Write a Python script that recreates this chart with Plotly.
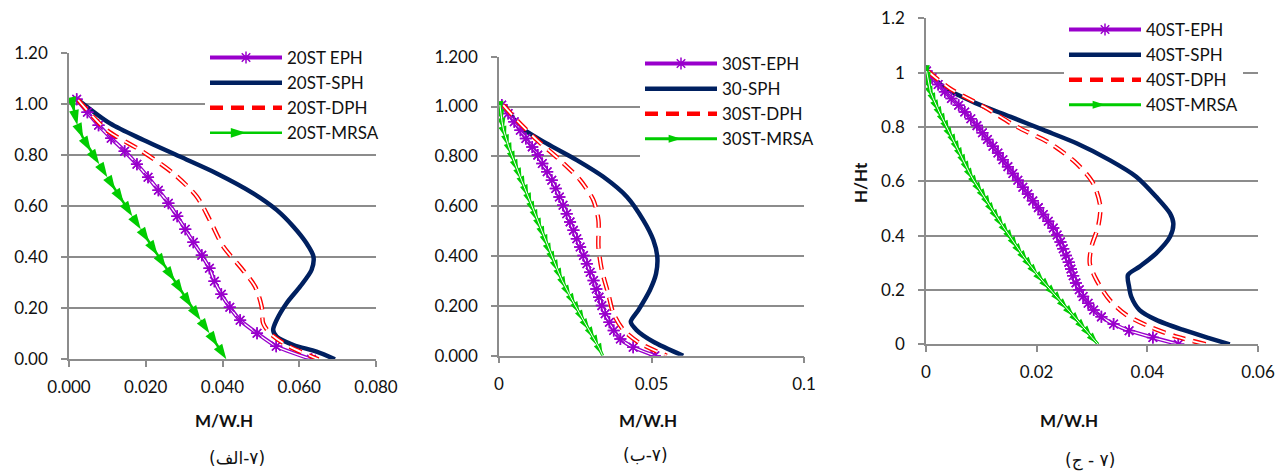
import plotly.graph_objects as go

# ---------------- data ----------------
# Panel (الف) : 20 storeys
h20 = [1.02, 0.969, 0.918, 0.867, 0.816, 0.765, 0.714, 0.663, 0.612, 0.561, 0.51,
       0.459, 0.408, 0.357, 0.306, 0.255, 0.204, 0.153, 0.102, 0.051, 0.0]
eph20 = [0.002, 0.0048, 0.0077, 0.011, 0.0145, 0.0177, 0.0206, 0.0233, 0.0259, 0.0282, 0.0303,
         0.0324, 0.0346, 0.0366, 0.0379, 0.0397, 0.0419, 0.0446, 0.049, 0.054, 0.0632]
mrsa20 = [0.0007, 0.0014, 0.0022, 0.0037, 0.0057, 0.0079, 0.0100, 0.0121, 0.0143, 0.0165, 0.0187,
          0.0209, 0.0231, 0.0253, 0.0276, 0.0298, 0.0320, 0.0343, 0.0366, 0.0388, 0.041]
sph20_x = [0.0024, 0.0107, 0.0194, 0.0289, 0.0385, 0.048, 0.0541, 0.0585, 0.0619, 0.0637,
           0.0632, 0.0602, 0.0567, 0.0541, 0.0532, 0.0541, 0.0585, 0.0645, 0.0693]
sph20_y = [1.017, 0.925, 0.860, 0.795, 0.729, 0.651, 0.586, 0.520, 0.455, 0.403,
           0.350, 0.285, 0.220, 0.154, 0.115, 0.089, 0.056, 0.030, 0.0]
dph20_x = [0.0024, 0.0098, 0.0185, 0.0272, 0.0333, 0.0367, 0.0402, 0.0446, 0.0485, 0.0502,
           0.0506, 0.0524, 0.0567, 0.065]
dph20_y = [1.017, 0.899, 0.821, 0.729, 0.638, 0.546, 0.442, 0.363, 0.285, 0.207,
           0.141, 0.102, 0.056, 0.0]

# Panel (ب) : 30 storeys
h30 = [1.006, 0.972, 0.939, 0.905, 0.872, 0.838, 0.805, 0.771, 0.738, 0.704, 0.671,
       0.637, 0.604, 0.570, 0.537, 0.503, 0.469, 0.436, 0.402, 0.369, 0.335,
       0.302, 0.268, 0.235, 0.201, 0.168, 0.134, 0.101, 0.067, 0.034, 0.0]
eph30 = [0.0009, 0.003, 0.005, 0.007, 0.0088, 0.0109, 0.0127, 0.0142, 0.0158, 0.0173, 0.0186,
         0.0198, 0.021, 0.0222, 0.0233, 0.0244, 0.0255, 0.0266, 0.0277, 0.0288, 0.0299,
         0.0310, 0.0319, 0.0328, 0.0337, 0.0348, 0.0362, 0.0376, 0.0398, 0.0440, 0.0511]
mrsa30 = [0.0003, 0.0006, 0.001, 0.0015, 0.0023, 0.0032, 0.0042, 0.0052, 0.0063, 0.0074, 0.0085,
          0.0096, 0.0106, 0.0117, 0.0128, 0.0139, 0.0150, 0.0160, 0.0172, 0.0183, 0.0195,
          0.0207, 0.022, 0.0235, 0.0250, 0.0265, 0.0280, 0.0297, 0.0313, 0.0327, 0.034]
sph30_x = [0.0017, 0.0069, 0.0156, 0.0255, 0.0342, 0.0419, 0.0473, 0.0506, 0.0519, 0.0515,
           0.0495, 0.0457, 0.0432, 0.0451, 0.0506, 0.0604]
sph30_y = [1.006, 0.919, 0.852, 0.785, 0.718, 0.638, 0.544, 0.464, 0.397, 0.330,
           0.264, 0.183, 0.136, 0.103, 0.056, 0.0]
dph30_x = [0.0014, 0.0058, 0.0124, 0.02, 0.0266, 0.0309, 0.0326, 0.0326, 0.0337, 0.0358,
           0.0375, 0.0408, 0.0462, 0.055]
dph30_y = [1.006, 0.946, 0.866, 0.785, 0.705, 0.625, 0.544, 0.437, 0.344, 0.250,
           0.170, 0.103, 0.050, 0.0]

# Panel (ج) : 40 storeys
h40 = [1.006, 0.981, 0.956, 0.930, 0.905, 0.880, 0.855, 0.830, 0.805, 0.779, 0.754,
       0.729, 0.704, 0.679, 0.654, 0.629, 0.604, 0.578, 0.553, 0.528, 0.503,
       0.478, 0.453, 0.428, 0.402, 0.377, 0.352, 0.327, 0.302, 0.277, 0.252,
       0.226, 0.201, 0.176, 0.151, 0.126, 0.101, 0.075, 0.050, 0.025, 0.0]
eph40 = [0.0001, 0.0011, 0.0022, 0.0034, 0.0046, 0.0059, 0.007, 0.0081, 0.0092, 0.0102, 0.0111,
         0.0121, 0.0130, 0.0139, 0.0148, 0.0157, 0.0166, 0.0175, 0.0184, 0.0193, 0.0203,
         0.0212, 0.0221, 0.0230, 0.0237, 0.0243, 0.0248, 0.0253, 0.0258, 0.0262, 0.0266,
         0.0271, 0.0277, 0.0284, 0.0293, 0.0303, 0.0317, 0.0339, 0.0367, 0.0410, 0.0456]
mrsa40 = [0.0001, 0.0003, 0.0005, 0.0008, 0.0013, 0.0018, 0.0024, 0.003, 0.0036, 0.0042, 0.0049,
          0.0055, 0.0061, 0.0067, 0.0073, 0.0079, 0.0086, 0.0094, 0.0102, 0.0110, 0.0117,
          0.0125, 0.0133, 0.0141, 0.0150, 0.0158, 0.0166, 0.0175, 0.0184, 0.0193, 0.0203,
          0.0214, 0.0225, 0.0236, 0.0246, 0.0257, 0.0268, 0.0279, 0.0290, 0.0300, 0.0311]
sph40_x = [0.0004, 0.0031, 0.0091, 0.0152, 0.0212, 0.0272, 0.0332, 0.038, 0.0416, 0.0441, 0.0447,
           0.0441, 0.0416, 0.0386, 0.0365, 0.0367, 0.0371, 0.0386, 0.0416, 0.0465, 0.0513, 0.0549]
sph40_y = [1.004, 0.948, 0.887, 0.838, 0.789, 0.740, 0.678, 0.617, 0.543, 0.482, 0.445,
           0.396, 0.335, 0.286, 0.255, 0.212, 0.175, 0.126, 0.090, 0.053, 0.022, 0.0]
dph40_x = [0.0004, 0.0043, 0.0104, 0.0164, 0.0224, 0.0272, 0.0302, 0.0315, 0.0311, 0.0299,
           0.0296, 0.0308, 0.0332, 0.0362, 0.0404, 0.0453, 0.0507]
dph40_y = [1.004, 0.942, 0.875, 0.801, 0.740, 0.666, 0.593, 0.507, 0.433, 0.359,
           0.298, 0.237, 0.163, 0.108, 0.065, 0.028, 0.0]

names20 = ["20ST EPH", "20ST-SPH", "20ST-DPH", "20ST-MRSA"]
names30 = ["30ST-EPH", "30-SPH", "30ST-DPH", "30ST-MRSA"]
names40 = ["40ST-EPH", "40ST-SPH", "40ST-DPH", "40ST-MRSA"]

x_title = "M/W.H"
y_title = "H/Ht"
captions = ["\u200f(۷-الف)\u200f", "\u200f(۷-ب)\u200f", "\u200f(۷ - ج)\u200f"]

# ---------------- style ----------------
PURPLE = "#9900cc"
NAVY = "#002060"
RED = "#ff0000"
GREEN = "#00cc00"
GRID = "#8c8c8c"
FONT = "Lato, 'Open Sans', 'DejaVu Sans', sans-serif"
TXT = "#111111"

fig = go.Figure()


def add_panel(xa, ya, leg, names, h, eph, mrsa, sx, sy, dx, dy, mr_double, asize):
    # SPH
    fig.add_trace(go.Scatter(x=sx, y=sy, xaxis=xa, yaxis=ya, mode="lines", name=names[1],
                             legend=leg, legendrank=2,
                             line=dict(color=NAVY, width=4.5, shape="spline", smoothing=0.8)))
    # EPH double line with stars
    fig.add_trace(go.Scatter(x=eph, y=h, xaxis=xa, yaxis=ya, mode="lines+markers", name=names[0],
                             legend=leg, legendrank=1,
                             line=dict(color=PURPLE, width=4, shape="spline", smoothing=0.6),
                             marker=dict(symbol="asterisk-open", size=10, color=PURPLE,
                                         line=dict(color=PURPLE, width=1.5))))
    fig.add_trace(go.Scatter(x=eph, y=h, xaxis=xa, yaxis=ya, mode="lines", showlegend=False,
                             line=dict(color="white", width=1.3, shape="spline", smoothing=0.6),
                             hoverinfo="skip"))
    fig.add_trace(go.Scatter(x=eph, y=h, xaxis=xa, yaxis=ya, mode="markers", showlegend=False,
                             marker=dict(symbol="asterisk-open", size=10, color=PURPLE,
                                         line=dict(color=PURPLE, width=1.5)),
                             hoverinfo="skip"))
    # DPH dashed double line
    fig.add_trace(go.Scatter(x=dx, y=dy, xaxis=xa, yaxis=ya, mode="lines", name=names[2],
                             legend=leg, legendrank=3,
                             line=dict(color=RED, width=4.5, dash="13px,8px",
                                       shape="spline", smoothing=0.8)))
    fig.add_trace(go.Scatter(x=dx, y=dy, xaxis=xa, yaxis=ya, mode="lines", showlegend=False,
                             line=dict(color="white", width=1.8, dash="13px,8px",
                                       shape="spline", smoothing=0.8),
                             hoverinfo="skip"))
    # MRSA with arrow heads
    fig.add_trace(go.Scatter(x=mrsa, y=h, xaxis=xa, yaxis=ya, mode="lines+markers", name=names[3],
                             legend=leg, legendrank=4,
                             line=dict(color=GREEN, width=3 if mr_double else 2.5),
                             marker=dict(symbol="arrow", size=asize, color=GREEN,
                                         angleref="previous")))
    if mr_double:
        fig.add_trace(go.Scatter(x=mrsa, y=h, xaxis=xa, yaxis=ya, mode="lines", showlegend=False,
                                 line=dict(color="white", width=1), hoverinfo="skip"))


add_panel("x", "y", "legend", names20, h20, eph20, mrsa20, sph20_x, sph20_y, dph20_x, dph20_y, False, 16)
add_panel("x2", "y2", "legend2", names30, h30, eph30, mrsa30, sph30_x, sph30_y, dph30_x, dph30_y, True, 13)
add_panel("x3", "y3", "legend3", names40, h40, eph40, mrsa40, sph40_x, sph40_y, dph40_x, dph40_y, True, 13)

W, H = 1281, 472


def px_x(p):
    return p / W


def px_y(p):
    return 1 - p / H


tickfont = dict(family=FONT, size=17, color=TXT)
xcommon = dict(showline=True, linecolor=GRID, linewidth=1.5, ticks="outside", ticklen=6,
               tickcolor=GRID, tickwidth=1.5, showgrid=False, zeroline=False,
               tickfont=tickfont, ticklabelstandoff=6, automargin=False)
ycommon = dict(showline=True, linecolor=GRID, linewidth=1.5, ticks="outside", ticklen=6,
               tickcolor=GRID, tickwidth=1.5, showgrid=True, gridcolor=GRID, gridwidth=1.5,
               zeroline=False, tickfont=tickfont, range=[0, 1.2], dtick=0.2,
               ticklabelstandoff=10, automargin=False)

legcommon = dict(bgcolor="white", borderwidth=0, font=dict(family=FONT, size=17, color=TXT),
                 itemwidth=72, xanchor="left", yanchor="top", tracegroupgap=0,
                 itemclick=False)

fig.update_layout(
    width=W, height=H, autosize=False,
    margin=dict(l=0, r=0, t=0, b=0, autoexpand=False),
    paper_bgcolor="white", plot_bgcolor="white",
    font=dict(family=FONT, size=17, color=TXT),
    xaxis=dict(xcommon, domain=[px_x(69), px_x(376)], range=[0, 0.08], dtick=0.02,
               tickformat=".3f", anchor="y"),
    yaxis=dict(ycommon, domain=[px_y(359.3), px_y(53.3)], tickformat=".2f", anchor="x"),
    xaxis2=dict(xcommon, domain=[px_x(499), px_x(804)], range=[0, 0.1], dtick=0.05, anchor="y2"),
    yaxis2=dict(ycommon, domain=[px_y(355.7), px_y(56.7)], tickformat=".3f", anchor="x2"),
    xaxis3=dict(xcommon, domain=[px_x(926), px_x(1258)], range=[0, 0.06], dtick=0.02, anchor="y3"),
    yaxis3=dict(ycommon, domain=[px_y(344.3), px_y(18.3)], anchor="x3"),
    legend=dict(legcommon, x=px_x(205), y=px_y(40)),
    legend2=dict(legcommon, x=px_x(640), y=px_y(46)),
    legend3=dict(legcommon, x=px_x(1064), y=px_y(12)),
    showlegend=True,
)

ann = []
for cx in (224, 648, 1069):
    ann.append(dict(text="<b>" + x_title + "</b>", x=px_x(cx), y=px_y(420), xref="paper", yref="paper",
                    showarrow=False, font=dict(family=FONT, size=17, color=TXT),
                    xanchor="center", yanchor="middle"))
for cx, cy, t in zip((237, 645, 1090), (458, 455, 460), captions):
    ann.append(dict(text=t, x=px_x(cx), y=px_y(cy), xref="paper", yref="paper",
                    showarrow=False, font=dict(family="DejaVu Sans, sans-serif", size=17, color=TXT),
                    xanchor="center", yanchor="middle"))
ann.append(dict(text="<b>" + y_title + "</b>", x=px_x(861), y=px_y(183), xref="paper", yref="paper",
                showarrow=False, textangle=-90, font=dict(family=FONT, size=17, color=TXT),
                xanchor="center", yanchor="middle"))
fig.update_layout(annotations=ann)

fig.write_html("out.html", config={"displayModeBar": False},
               post_script="document.body.style.margin='0px';document.body.style.overflow='hidden';")
